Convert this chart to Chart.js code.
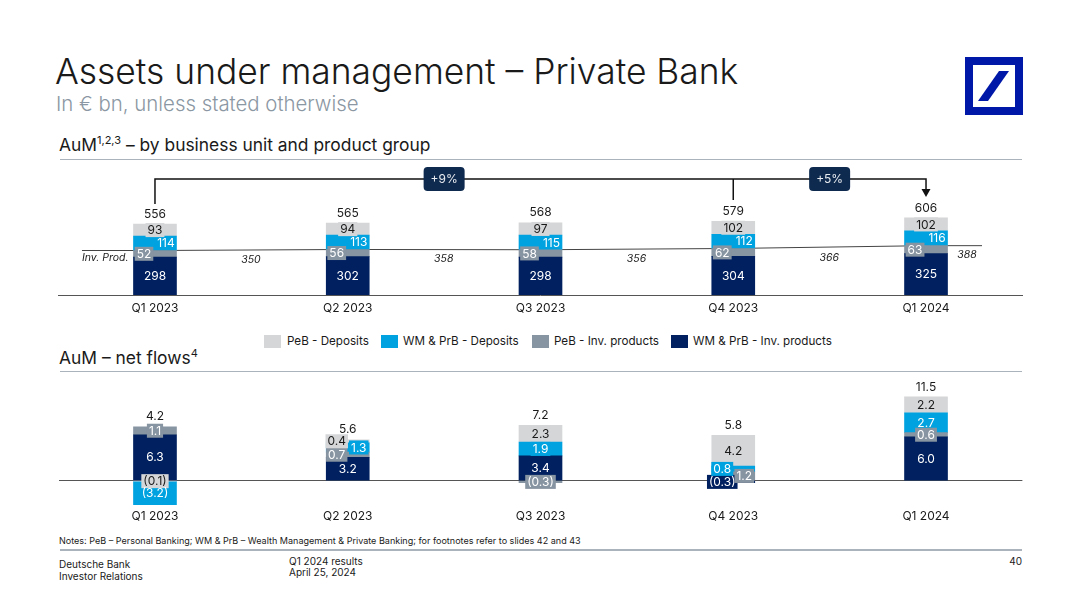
<!DOCTYPE html>
<html>
<head>
<meta charset="utf-8">
<title>Assets under management - Private Bank</title>
<script src="https://cdn.jsdelivr.net/npm/chart.js@4"></script>
<style>
  body { margin: 0; background: #fff; font-family: Inter, sans-serif; color: #1a1a1a; }
  #page { position: relative; width: 1080px; height: 608px; overflow: hidden; }
  #page > * { position: absolute; }
  #page > div { white-space: nowrap; }
  canvas { left: 0; }
  .rule { left: 60px; width: 962px; height: 1px; background: #aab2bb; }
  .heading { left: 59px; font-size: 17.4px; line-height: 20px; }
  .heading sup { font-size: 11px; line-height: 0; }
  .small { font-size: 10px; line-height: 11px; }
  .legend-box { width: 17px; height: 13px; top: 335px; }
  .legend-text { top: 334px; font-size: 11.65px; line-height: 15px; }
</style>
</head>
<body>
<div id="page">
  <div style="left:55px;top:49px;font-size:35.4px;line-height:46px;font-weight:300;">Assets under management – Private Bank</div>
  <div style="left:56px;top:91px;font-size:20.4px;line-height:26px;font-weight:300;color:#8b97a3;">In € bn, unless stated otherwise</div>
  <svg style="left:965px;top:57px;" width="58" height="58" viewBox="0 0 58 58">
    <path fill="#0018a8" fill-rule="evenodd" d="M0 0H58V58H0ZM8 8V50H50V8Z"/>
    <path fill="#0018a8" d="M13 44L34 14H44L23 44Z"/>
  </svg>
  <div class="heading" style="top:135px;">AuM<sup>1,2,3</sup> – by business unit and product group</div>
  <div class="rule" style="top:159px;"></div>
  <canvas id="aumChart" width="1080" height="155" style="top:165px;width:1080px;height:155px;"></canvas>
  <div id="legend"></div>
  <div class="heading" style="top:348px;">AuM – net flows<sup>4</sup></div>
  <div class="rule" style="top:371px;"></div>
  <canvas id="flowChart" width="1080" height="150" style="top:375px;width:1080px;height:150px;"></canvas>
  <div style="left:59px;top:535px;font-size:9.04px;line-height:11px;">Notes: PeB – Personal Banking; WM &amp; PrB – Wealth Management &amp; Private Banking; for footnotes refer to slides 42 and 43</div>
  <div class="rule" style="top:549px;height:2px;"></div>
  <div class="small" style="left:59px;top:558px;line-height:12px;">Deutsche Bank<br>Investor Relations</div>
  <div class="small" style="left:289px;top:556px;">Q1 2024 results<br>April 25, 2024</div>
  <div class="small" style="left:1000px;width:22px;top:556px;text-align:right;">40</div>
</div>

<script>
const quarters = ["Q1 2023", "Q2 2023", "Q3 2023", "Q4 2023", "Q1 2024"];
const seriesNames = ["WM & PrB - Inv. products", "PeB - Inv. products", "WM & PrB - Deposits", "PeB - Deposits"];

// AuM, EUR bn
const aumWmInv = [298, 302, 298, 304, 325];
const aumPebInv = [52, 56, 58, 62, 63];
const aumWmDep = [114, 113, 115, 112, 116];
const aumPebDep = [93, 94, 97, 102, 102];
const aumTotals = ["556", "565", "568", "579", "606"];
const invProdTotals = [350, 358, 356, 366, 388];
const growthLabels = ["+9%", "+5%"];

// Net flows, EUR bn
// the one PeB deposit outflow sits next to the axis, so it needs its own dataset
const flowPebDepOut = [-0.1, null, null, null, null];
const flowWmInv = [6.3, 3.2, 3.4, -0.3, 6.0];
const flowPebInv = [1.1, 0.7, -0.3, 1.2, 0.6];
const flowWmDep = [-3.2, 1.3, 1.9, 0.8, 2.7];
const flowPebDep = [null, 0.4, 2.3, 4.2, 2.2];
const flowTotals = ["4.2", "5.6", "7.2", "5.8", "11.5"];

const seriesColors = ["#00205f", "#8794a1", "#00a3e0", "#d5d6d8"];
const FONT = "Inter, sans-serif";

// sideways nudge of the value labels, by series then quarter
const aumShifts = [[0, 0, 0, 0, 0], [-11, -11, -11, -11, -11], [11, 11, 11, 11, 11], [0, 0, 0, 0, 0]];
const flowShifts = [[0, 0, 0, -11, 0], [0, -11, 0, 11, 0], [0, 11, 0, -11, 0], [0, -11, 0, 0, 0]];

function formatValue(value, decimals) {
  const text = Math.abs(value).toFixed(decimals);
  return value < 0 ? "(" + text + ")" : text;
}

function barMetas(chart) {
  return chart.data.datasets
    .map((dataset, i) => ({ dataset, meta: chart.getDatasetMeta(i) }))
    .filter((item) => item.dataset.type === "bar");
}

/**
 * Value labels inside the segments, with a colour patch when the segment is too thin
 */
function segmentLabels(decimals) {
  return {
    id: "segmentLabels",
    afterDatasetsDraw(chart) {
      const ctx = chart.ctx;
      ctx.save();
      ctx.font = "12px " + FONT;
      ctx.textAlign = "center";
      ctx.textBaseline = "middle";
      barMetas(chart).forEach(({ dataset, meta }) => {
        meta.data.forEach((bar, j) => {
          const value = dataset.data[j];
          if (value === null) return;
          const text = formatValue(value, decimals);
          const x = bar.x + dataset.shifts[j];
          const y = (bar.y + bar.base) / 2;
          if (Math.abs(bar.base - bar.y) < 14) {
            const w = ctx.measureText(text).width + 4;
            ctx.fillStyle = dataset.backgroundColor;
            ctx.fillRect(x - w / 2, y - 7, w, 14);
          }
          ctx.fillStyle = dataset.backgroundColor === seriesColors[3] ? "#1a1a1a" : "#ffffff";
          ctx.fillText(text, x, y + 0.5);
        });
      });
      ctx.restore();
    },
  };
}

/**
 * Totals above each stack
 */
function totalLabels(totals) {
  return {
    id: "totalLabels",
    afterDatasetsDraw(chart) {
      const ctx = chart.ctx;
      ctx.save();
      ctx.font = "12px " + FONT;
      ctx.textAlign = "center";
      ctx.textBaseline = "middle";
      ctx.fillStyle = "#1a1a1a";
      totals.forEach((text, j) => {
        const bars = barMetas(chart)
          .filter(({ dataset }) => dataset.data[j] !== null)
          .map(({ meta }) => meta.data[j]);
        const top = Math.min(...bars.map((bar) => Math.min(bar.y, bar.base)));
        ctx.fillText(text, bars[0].x, top - 10);
      });
      ctx.restore();
    },
  };
}

/**
 * Inv. products line ends, caption and the values next to each bar
 */
const invProdAnnotations = {
  id: "invProdAnnotations",
  beforeDatasetsDraw(chart) {
    const { x, y } = chart.scales;
    const ctx = chart.ctx;
    const last = invProdTotals.length - 1;
    ctx.save();
    ctx.strokeStyle = "#444";
    ctx.lineWidth = 1;
    ctx.beginPath();
    ctx.moveTo(x.getPixelForValue(0) - 73, y.getPixelForValue(invProdTotals[0]));
    ctx.lineTo(x.getPixelForValue(0), y.getPixelForValue(invProdTotals[0]));
    ctx.moveTo(x.getPixelForValue(last), y.getPixelForValue(invProdTotals[last]));
    ctx.lineTo(x.getPixelForValue(last) + 56, y.getPixelForValue(invProdTotals[last]));
    ctx.stroke();
    ctx.restore();
  },
  afterDatasetsDraw(chart) {
    const { x, y } = chart.scales;
    const ctx = chart.ctx;
    const last = invProdTotals.length - 1;
    ctx.save();
    ctx.font = "italic 10.5px " + FONT;
    ctx.textBaseline = "middle";
    ctx.textAlign = "center";
    ctx.fillStyle = "#1a1a1a";
    invProdTotals.forEach((value, j) => {
      const offset = j === last ? 41 : 96;
      ctx.fillText(String(value), x.getPixelForValue(j) + offset, y.getPixelForValue(value) + 9.5);
    });
    ctx.textAlign = "left";
    ctx.fillText("Inv. Prod.", x.getPixelForValue(0) - 73, y.getPixelForValue(invProdTotals[0]) + 7.5);
    ctx.restore();
  },
};

/**
 * Growth bracket with the two pills
 */
const growthBracket = {
  id: "growthBracket",
  afterDraw(chart) {
    const x = chart.scales.x;
    const ctx = chart.ctx;
    const topY = 14;
    const from = x.getPixelForValue(0);
    const mid = x.getPixelForValue(3);
    const to = x.getPixelForValue(4);
    ctx.save();
    ctx.strokeStyle = "#111";
    ctx.lineWidth = 1.5;
    ctx.beginPath();
    ctx.moveTo(from, 39);
    ctx.lineTo(from, topY);
    ctx.lineTo(to, topY);
    ctx.lineTo(to, 26);
    ctx.moveTo(mid, topY);
    ctx.lineTo(mid, 35);
    ctx.stroke();
    ctx.fillStyle = "#111";
    ctx.beginPath();
    ctx.moveTo(to - 4.5, 24);
    ctx.lineTo(to + 4.5, 24);
    ctx.lineTo(to, 32);
    ctx.closePath();
    ctx.fill();

    ctx.font = "12px " + FONT;
    ctx.textAlign = "center";
    ctx.textBaseline = "middle";
    [(from + mid) / 2, (mid + to) / 2].forEach((cx, k) => {
      ctx.fillStyle = "#0f2a4f";
      ctx.beginPath();
      ctx.roundRect(cx - 20.5, topY - 12, 41, 24, 4);
      ctx.fill();
      ctx.fillStyle = "#e8ecf0";
      ctx.fillText(growthLabels[k], cx, topY + 0.5);
    });
    ctx.restore();
  },
};

function barDataset(series, data, shifts) {
  return {
    type: "bar",
    label: seriesNames[series],
    data: data,
    shifts: shifts,
    backgroundColor: seriesColors[series],
    barThickness: 43,
    stack: "total",
    order: 0,
  };
}

function xTicks(padding) {
  return { color: "#1a1a1a", padding: padding, maxRotation: 0, autoSkip: false, font: { family: FONT, size: 12 } };
}

const baseOptions = {
  responsive: false,
  animation: false,
  plugins: { legend: { display: false }, tooltip: { enabled: false } },
};

new Chart(document.getElementById("aumChart").getContext("2d"), {
  data: {
    labels: quarters,
    datasets: [
      barDataset(0, aumWmInv, aumShifts[0]),
      barDataset(1, aumPebInv, aumShifts[1]),
      barDataset(2, aumWmDep, aumShifts[2]),
      barDataset(3, aumPebDep, aumShifts[3]),
      {
        type: "line",
        label: "Inv. products",
        data: invProdTotals,
        borderColor: "#444",
        borderWidth: 1,
        pointRadius: 0,
        stack: "line",
        order: 1,
      },
    ],
  },
  options: {
    ...baseOptions,
    layout: { padding: { left: 58.6, right: 57.6, top: 41, bottom: 0 } },
    scales: {
      x: {
        stacked: true,
        grid: { display: false, drawTicks: false },
        border: { display: true, color: "#555", width: 1 },
        ticks: xTicks(6),
        afterFit(scale) {
          scale.height = 25;
        },
      },
      y: { stacked: true, display: false, min: 0, max: 700 },
    },
  },
  plugins: [segmentLabels(0), totalLabels(aumTotals), invProdAnnotations, growthBracket],
});

new Chart(document.getElementById("flowChart").getContext("2d"), {
  data: {
    labels: quarters,
    datasets: [
      barDataset(3, flowPebDepOut, flowShifts[3]),
      barDataset(0, flowWmInv, flowShifts[0]),
      barDataset(1, flowPebInv, flowShifts[1]),
      barDataset(2, flowWmDep, flowShifts[2]),
      barDataset(3, flowPebDep, flowShifts[3]),
    ],
  },
  options: {
    ...baseOptions,
    layout: { padding: { left: 58.6, right: 57.6, top: 11, bottom: 0 } },
    scales: {
      x: {
        stacked: true,
        grid: { display: false, drawTicks: false },
        border: { display: false },
        ticks: xTicks(3),
        afterFit(scale) {
          scale.height = 19;
        },
      },
      y: {
        stacked: true,
        min: -3.5,
        max: 13,
        border: { display: false },
        ticks: { display: false, stepSize: 1 },
        grid: {
          drawTicks: false,
          color: (ctx) => (ctx.tick && Math.abs(ctx.tick.value) < 1e-9 ? "#555" : "rgba(0,0,0,0)"),
        },
        afterFit(scale) {
          scale.width = 0;
        },
      },
    },
  },
  plugins: [segmentLabels(1), totalLabels(flowTotals)],
});

// Legend reads left to right from the top of the stack
const legendLefts = [264, 381, 532, 671];
const legendTextLefts = [287, 403, 554, 693];
const legendRoot = document.getElementById("page");
[3, 2, 1, 0].forEach((series, k) => {
  const box = document.createElement("div");
  box.className = "legend-box";
  box.style.left = legendLefts[k] + "px";
  box.style.background = seriesColors[series];
  legendRoot.appendChild(box);
  const text = document.createElement("div");
  text.className = "legend-text";
  text.style.left = legendTextLefts[k] + "px";
  text.textContent = seriesNames[series];
  legendRoot.appendChild(text);
});
</script>
</body>
</html>
